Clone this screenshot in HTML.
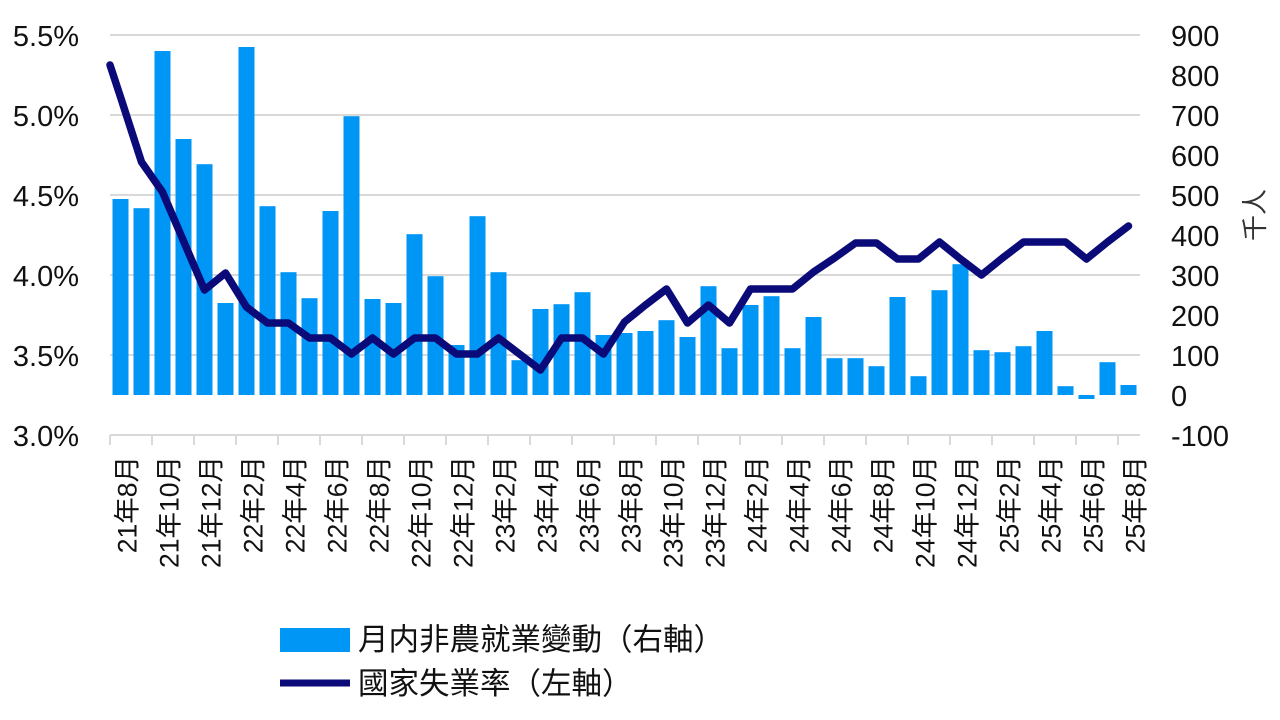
<!DOCTYPE html>
<html><head><meta charset="utf-8"><style>
html,body{margin:0;padding:0;background:#fff;width:1280px;height:720px;overflow:hidden}
</style></head><body>
<svg width="1280" height="720" xmlns="http://www.w3.org/2000/svg" font-family="Liberation Sans, Noto Sans CJK TC, sans-serif">
<g stroke="#d9d9d9" stroke-width="2">
<line x1="110" y1="35" x2="1140" y2="35"/><line x1="110" y1="115" x2="1140" y2="115"/>
<line x1="110" y1="195" x2="1140" y2="195"/><line x1="110" y1="275" x2="1140" y2="275"/>
<line x1="110" y1="355" x2="1140" y2="355"/><line x1="110" y1="435" x2="1140" y2="435"/>
</g>
<g id="ticks" stroke="#d9d9d9" stroke-width="2"></g>
<g id="bars" fill="#0096f5"></g>
<polyline id="ln" fill="none" stroke="#0a0a78" stroke-width="7.5" stroke-linejoin="round" stroke-linecap="round"/>
<g font-size="29" fill="#111" text-anchor="end">
<text x="79" y="46">5.5%</text><text x="79" y="126">5.0%</text><text x="79" y="206">4.5%</text>
<text x="79" y="286">4.0%</text><text x="79" y="366">3.5%</text><text x="79" y="446">3.0%</text>
</g>
<g font-size="29" fill="#111">
<text x="1171" y="46">900</text><text x="1171" y="86">800</text><text x="1171" y="126">700</text>
<text x="1171" y="166">600</text><text x="1171" y="206">500</text><text x="1171" y="246">400</text>
<text x="1171" y="286">300</text><text x="1171" y="326">200</text><text x="1171" y="366">100</text>
<text x="1171" y="406">0</text><text x="1171" y="446">-100</text>
</g>
<text x="1264" y="215" font-size="26" fill="#333" text-anchor="middle" transform="rotate(-90 1264 215)" font-family="Noto Sans CJK TC, sans-serif">千人</text>
<g id="xl" font-size="26.5" fill="#111"></g>
<rect x="280" y="628" width="70" height="24" fill="#0096f5"/>
<text x="358" y="650" font-size="30.5" fill="#111">月内非農就業變動（右軸）</text>
<line x1="280" y1="683" x2="350" y2="683" stroke="#0a0a78" stroke-width="7"/>
<text x="358" y="694" font-size="30.5" fill="#111">國家失業率（左軸）</text>
</svg>
<script>
var bars=[490,467,860,640,577,230,870,472,307,242,460,697,240,230,402,297,125,447,307,87,215,227,257,150,155,160,187,145,272,117,225,247,117,195,92,92,72,245,47,262,327,112,107,122,160,22,-10,82,25];
var ly=[97,162,192,241,290,273,307,323,323,338,338,354,338,354,338,338,354,354,338,354,370,338,338,354,322,305,289,323,305,323,289,289,289,272,258,243,243,259,259,242,259,275,258,242,242,242,259,242,226];
var ns="http://www.w3.org/2000/svg",b=document.getElementById('bars'),pts="110,65";
for(var i=0;i<49;i++){var cx=120.5+21*i,v=bars[i],h=Math.abs(v)*0.4,y=v>=0?395-h:395;
var r=document.createElementNS(ns,'rect');r.setAttribute('x',cx-8);r.setAttribute('width',16);r.setAttribute('y',y);r.setAttribute('height',h);b.appendChild(r);
pts+=" "+cx+","+ly[i];}
document.getElementById('ln').setAttribute('points',pts);
var t=document.getElementById('ticks');
for(var k=0;k<=25;k++){var x=110+42*k;if(x>1141)break;var l=document.createElementNS(ns,'line');l.setAttribute('x1',x);l.setAttribute('x2',x);l.setAttribute('y1',435);l.setAttribute('y2',445);t.appendChild(l);}
var xl=document.getElementById('xl');
for(var i=0;i<49;i+=2){var m=8+i,yr=21+Math.floor((m-1)/12),mo=((m-1)%12)+1,cx=120.5+21*i+16;
var tx=document.createElementNS(ns,'text');tx.setAttribute('x',cx);tx.setAttribute('y',456);tx.setAttribute('text-anchor','end');tx.setAttribute('transform','rotate(-90 '+cx+' 456)');tx.textContent=yr+'年'+mo+'月';xl.appendChild(tx);}
</script>
</body></html>
